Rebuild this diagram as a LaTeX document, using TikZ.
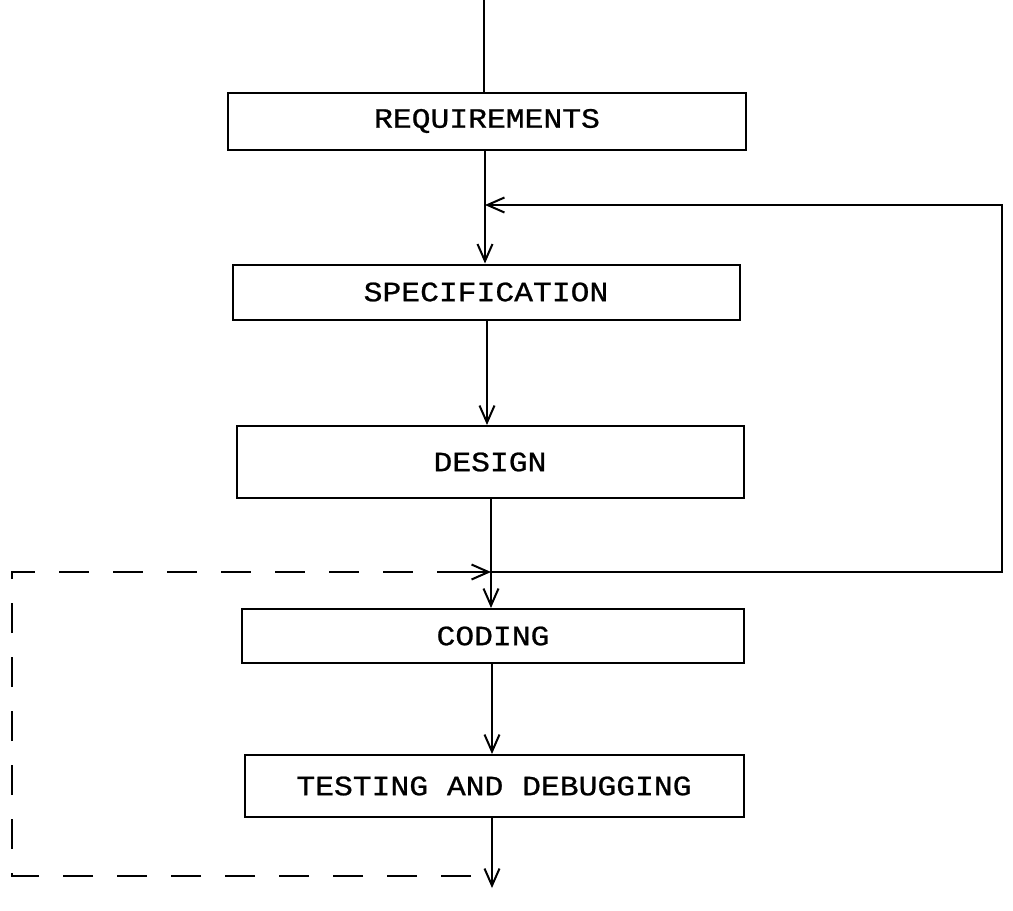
\documentclass[tikz,border=0pt]{standalone}
\usepackage{fontspec}
\usetikzlibrary{arrows.meta}
\newfontfamily\printerfont[FakeStretch=1.12,FakeBold=0.8]{Liberation Mono}
\begin{document}
\begin{tikzpicture}[x=1pt,y=-1pt,
  phase/.style={draw, line width=2pt, inner sep=0pt, anchor=center,
    font=\printerfont\fontsize{28}{30}\selectfont},
  flow/.style={line width=2pt},
  vtip/.style={-{Straight Barb[length=17pt,width=15pt,line width=2pt]}},
  loopline/.style={flow, dash pattern=on 30pt off 24pt, dash phase=33pt}]
\useasboundingbox (0,0) rectangle (1013,911);

% phases of the life cycle
\node[phase, minimum width=518pt, minimum height=57pt] (req)  at (487,121) {REQUIREMENTS};
\node[phase, minimum width=507pt, minimum height=55pt] (spec) at (486,292) {SPECIFICATION};
\node[phase, minimum width=507pt, minimum height=72pt] (des)  at (490,462) {DESIGN};
\node[phase, minimum width=502pt, minimum height=54pt] (cod)  at (493,636) {CODING};
\node[phase, minimum width=499pt, minimum height=62pt] (test) at (494,786) {TESTING AND DEBUGGING};

% points on the main line
\coordinate (in)    at (484,0);
\coordinate (fbin)  at (485,205);
\coordinate (join)  at (491,572);
\coordinate (split) at (492,876);
\coordinate (out)   at (492,888);

% loop corners
\coordinate (fbR1) at (1002,572);
\coordinate (fbR2) at (1002,205);
\coordinate (dsL1) at (12,876);
\coordinate (dsL2) at (12,572);

% main downward flow
\draw[flow] (in) -- (in |- req.north);
\draw[flow, vtip] (fbin |- req.south) -- (fbin |- spec.north);
\draw[flow, vtip] (487,0 |- spec.south) -- (487,0 |- des.north);
\draw[flow, vtip] (join |- des.south) -- (join |- cod.north);
\draw[flow, vtip] (split |- cod.south) -- (split |- test.north);
\draw[flow, vtip] (split |- test.south) -- (out);

% feedback from design back to specification
\draw[flow, vtip] (join) -- (fbR1) -- (fbR2) -- (fbin);

% dashed loop from testing back to coding
\draw[loopline] (split) -- (dsL1) -- (dsL2) -- ([xshift=-24pt]join);
\draw[flow, vtip] ([xshift=-26pt]join) -- (join);
\end{tikzpicture}
\end{document}
